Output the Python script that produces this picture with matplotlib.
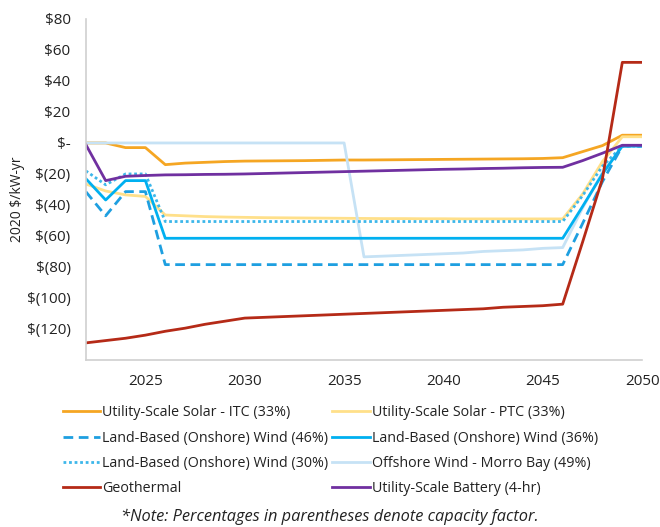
import matplotlib.pyplot as plt
import numpy as np

plt.rcParams['font.family'] = ['Open Sans', 'DejaVu Sans']

years = list(range(2022, 2051))

solar_itc = [0, 0, -3, -3, -14, -13, -12.5, -12, -11.7, -11.6, -11.5, -11.4, -11.2, -11,
             -11, -10.9, -10.8, -10.7, -10.6, -10.5, -10.4, -10.3, -10.2, -10, -9.5,
             -5.6, -1.7, 5, 5]
solar_ptc = [-26.5, -31, -33.5, -34.5, -46.5, -47, -47.5, -47.8, -48, -48.2, -48.3, -48.4, -48.5, -48.6,
             -48.7, -48.8, -48.8, -48.9, -48.9, -49, -49, -49, -49, -49, -49,
             -33, -12, 4, 4]
wind_46 = [-31.4, -47, -31.4, -31.4, -78.5, -78.5, -78.5, -78.5, -78.5, -78.5, -78.5, -78.5, -78.5, -78.5,
           -78.5, -78.5, -78.5, -78.5, -78.5, -78.5, -78.5, -78.5, -78.5, -78.5, -78.5,
           -52, -25, -2, -2]
wind_36 = [-23, -36.8, -24.3, -24.3, -61.5, -61.5, -61.5, -61.5, -61.5, -61.5, -61.5, -61.5, -61.5, -61.5,
           -61.5, -61.5, -61.5, -61.5, -61.5, -61.5, -61.5, -61.5, -61.5, -61.5, -61.5,
           -41, -20, -2, -2]
wind_30 = [-18, -27, -20, -20, -50.7, -50.7, -50.7, -50.7, -50.7, -50.7, -50.7, -50.7, -50.7, -50.7,
           -50.7, -50.7, -50.7, -50.7, -50.7, -50.7, -50.7, -50.7, -50.7, -50.7, -50.7,
           -34, -15, -2, -2]
offshore = [0, 0, 0, 0, 0, 0, 0, 0, 0, 0, 0, 0, 0, 0,
            -73.5, -73, -72.5, -72, -71.5, -71, -70, -69.5, -69, -68, -67.5,
            -42, -19, -2, -2]
geothermal = [-129, -127.5, -126, -124, -121.5, -119.5, -117, -115, -113, -112.5, -112, -111.5, -111, -110.5,
              -110, -109.5, -109, -108.5, -108, -107.5, -107, -106, -105.5, -105, -104,
              -64, -23, 52, 52]
battery = [-1, -24.3, -21.5, -21, -20.6, -20.5, -20.3, -20.2, -20, -19.7, -19.4, -19.1, -18.8, -18.5,
           -18.2, -17.9, -17.6, -17.3, -17, -16.8, -16.5, -16.3, -16, -15.8, -15.7,
           -11.4, -6.6, -1.5, -1.5]

ytick_vals = [80, 60, 40, 20, 0, -20, -40, -60, -80, -100, -120]
ytick_labels = ['\\$80', '\\$60', '\\$40', '\\$20', '\\$-', '\\$(20)', '\\$(40)', '\\$(60)',
                '\\$(80)', '\\$(100)', '\\$(120)']
xtick_vals = [2025, 2030, 2035, 2040, 2045, 2050]

fig = plt.figure(figsize=(6.6, 5.27), dpi=100)
ax = fig.add_axes([0.130, 0.317, 0.843, 0.647])

lw = 2.0
l_itc, = ax.plot(years, solar_itc, color='#F5A623', lw=lw, label='Utility-Scale Solar - ITC (33%)')
l_ptc, = ax.plot(years, solar_ptc, color='#FFE08A', lw=lw, label='Utility-Scale Solar - PTC (33%)')
l_off, = ax.plot(years, offshore, color='#C6E2F5', lw=lw, label='Offshore Wind - Morro Bay (49%)')
l_w30, = ax.plot(years, wind_30, color='#3DB7EA', lw=lw, ls=(0, (1, 1)), label='Land-Based (Onshore) Wind (30%)')
l_w36, = ax.plot(years, wind_36, color='#00B0F0', lw=lw, label='Land-Based (Onshore) Wind (36%)')
l_w46, = ax.plot(years, wind_46, color='#1E9FE0', lw=lw, ls=(0, (3.5, 2)), label='Land-Based (Onshore) Wind (46%)')
l_bat, = ax.plot(years, battery, color='#7030A0', lw=lw, label='Utility-Scale Battery (4-hr)')
l_geo, = ax.plot(years, geothermal, color='#B52A17', lw=lw, label='Geothermal')

ax.set_xlim(2022, 2050)
ax.set_ylim(-140, 80)
ax.set_yticks(ytick_vals)
ax.set_yticklabels(ytick_labels)
ax.set_xticks(xtick_vals)
ax.tick_params(axis='both', length=0, labelsize=11, colors='#222222')
ax.tick_params(axis='y', pad=11)
ax.tick_params(axis='x', pad=10)
for side in ['top', 'right']:
    ax.spines[side].set_visible(False)
ax.spines['left'].set_color('#D0D0D0')
ax.spines['bottom'].set_color('#D0D0D0')
ax.spines['left'].set_linewidth(1.2)
ax.spines['bottom'].set_linewidth(1.2)
ax.set_ylabel('2020 \\$/kW-yr', fontsize=10, color='#222222')
ax.yaxis.set_label_coords(-0.11, 0.47)

# legend filled column-wise, so order entries for two columns
handles = [l_itc, l_w46, l_w30, l_geo, l_ptc, l_w36, l_off, l_bat]
fig.legend(handles=handles, labels=[h.get_label() for h in handles], ncol=2,
           loc='upper left', bbox_to_anchor=(0.0955, 0.231), frameon=False,
           fontsize=10.3, handlelength=2.6, handletextpad=0.14, columnspacing=0.28,
           labelspacing=0.72, borderpad=0, borderaxespad=0, labelcolor='#222222')

fig.text(0.5, 0.019, '*Note: Percentages in parentheses denote capacity factor.',
         ha='center', va='center', style='italic', fontsize=11.8, color='#222222')

fig.savefig('out.png', dpi=100)
